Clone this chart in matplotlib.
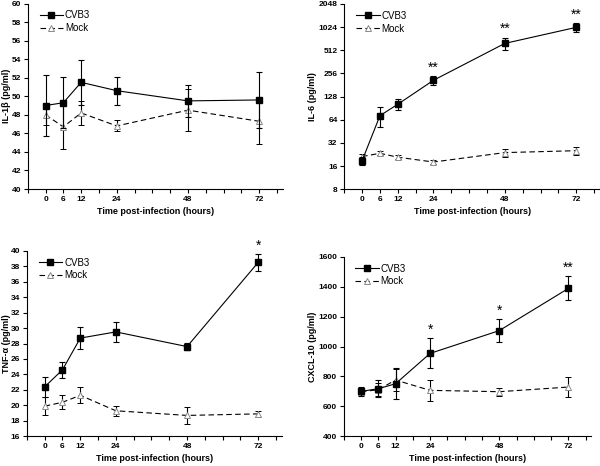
"""Four-panel cytokine time course, CVB3 vs mock infection."""

import matplotlib
matplotlib.use("Agg")
import matplotlib.pyplot as plt
from matplotlib.lines import Line2D
from matplotlib.ticker import FixedLocator, NullFormatter

plt.rcParams["font.family"] = ["Liberation Sans", "DejaVu Sans"]

hours = [0, 6, 12, 24, 48, 72]

# IL-1beta (pg/ml)
il1b_cvb3 = [49.0, 49.3, 51.5, 50.6, 49.5, 49.6]
il1b_cvb3_err = [3.3, 2.75, 2.4, 1.5, 1.7, 3.05]
il1b_mock = [48.0, 46.7, 48.2, 46.8, 48.5, 47.3]
il1b_mock_err = [1.1, 2.4, 1.3, 0.6, 2.3, 2.4]

# IL-6 (pg/ml), log2 axis
il6_cvb3 = [18.9, 72.5, 102, 209, 630, 1018]
il6_cvb3_err = [2.3, 21, 16, 30, 120, 145]
il6_mock = [21.3, 23.5, 20.9, 18.1, 24.0, 25.4]
il6_mock_err = [2.0, 1.5, 1.2, 1.2, 3.0, 3.3]

# TNF-alpha (pg/ml)
tnf_cvb3 = [22.4, 24.6, 28.7, 29.5, 27.6, 38.5]
tnf_cvb3_err = [1.3, 1.05, 1.45, 1.25, 0.5, 1.1]
tnf_mock = [19.9, 20.4, 21.3, 19.3, 18.7, 18.9]
tnf_mock_err = [1.15, 0.9, 1.05, 0.65, 1.1, 0.35]

# CXCL-10 (pg/ml)
cxcl_cvb3 = [700, 718, 751, 954, 1106, 1388]
cxcl_cvb3_err = [30, 55, 105, 100, 75, 80]
cxcl_mock = [698, 711, 776, 707, 698, 729]
cxcl_mock_err = [25, 45, 75, 70, 27, 68]

# significance marks: (hour, label)
il6_stars = [(24, "**"), (48, "**"), (72, "**")]
tnf_stars = [(72, "*")]
cxcl_stars = [(24, "*"), (48, "*"), (72, "**")]

W, H = 600, 466

CVB3_STYLE = dict(color="black", ls="-", lw=0.8, marker="s", ms=3.8,
                  mfc="black", mec="black")
MOCK_STYLE = dict(color="black", ls=(0, (5, 3)), lw=0.8, marker="^", ms=4.8,
                  mfc="white", mec="#8a8a8a", mew=0.7)


def _px_axes(fig, left, top, right, bottom):
    return fig.add_axes([left / W, 1 - bottom / H, (right - left) / W, (bottom - top) / H])


def draw_panel(ax, cvb3, cvb3_err, mock, mock_err, ylabel, ylim, yticks,
               label_px, stars=(), log2=False):
    err_kw = dict(ecolor="black", elinewidth=0.8, capsize=2.2, capthick=0.8)
    ax.errorbar(hours, mock, yerr=mock_err, zorder=2, **MOCK_STYLE, **err_kw)
    ax.errorbar(hours, cvb3, yerr=cvb3_err, zorder=3, **CVB3_STYLE, **err_kw)

    if log2:
        ax.set_yscale("log", base=2)
        ax.yaxis.set_minor_formatter(NullFormatter())
    ax.set_ylim(*ylim)
    ax.set_yticks(yticks)
    ax.set_yticklabels([str(t) for t in yticks])
    ax.yaxis.set_minor_locator(FixedLocator([]))

    ax.set_xlim(-6, 80)
    ax.set_xticks(hours)
    ax.xaxis.set_minor_locator(FixedLocator([-6, 18, 30, 36, 42, 54, 60, 66, 78]))

    for side in ("top", "right"):
        ax.spines[side].set_visible(False)
    for side in ("left", "bottom"):
        ax.spines[side].set_linewidth(0.8)
    ax.tick_params(which="both", direction="out", width=0.8, length=3,
                   labelsize=6, pad=1.8)
    for lab in ax.get_xticklabels() + ax.get_yticklabels():
        lab.set_fontweight("bold")

    ax.set_xlabel("Time post-infection (hours)", fontsize=6.5, fontweight="bold",
                  labelpad=3)
    ax.set_ylabel(ylabel, fontsize=6.5, fontweight="bold")
    # place the y label's right edge at a fixed figure pixel column
    pos = ax.get_position()
    ax.yaxis.set_label_coords((label_px / W - pos.x0) / pos.width, 0.5)

    for hr, txt in stars:
        i = hours.index(hr)
        ax.annotate(txt, (hr, cvb3[i] + cvb3_err[i]), xytext=(0, 1),
                    textcoords="offset points", ha="center", va="bottom",
                    fontsize=10)

    handles = [Line2D([], [], **CVB3_STYLE), Line2D([], [], **MOCK_STYLE)]
    ax.legend(handles, ["CVB3", "Mock"], loc="upper left",
              bbox_to_anchor=(0.02, 1.0), frameon=False, fontsize=7,
              handlelength=2.4, labelspacing=0.3, handletextpad=0.2,
              borderaxespad=0.3)


fig = plt.figure(figsize=(6, 4.66), dpi=100)

ax1 = _px_axes(fig, 27.7, 3.5, 283, 189)
draw_panel(ax1, il1b_cvb3, il1b_cvb3_err, il1b_mock, il1b_mock_err,
           "IL-1β (pg/ml)", (40, 60), list(range(40, 61, 2)), 11)

ax2 = _px_axes(fig, 344.3, 4, 600, 189.3)
draw_panel(ax2, il6_cvb3, il6_cvb3_err, il6_mock, il6_mock_err,
           "IL-6 (pg/ml)", (8, 2048), [8, 16, 32, 64, 128, 256, 512, 1024, 2048],
           317, stars=il6_stars, log2=True)

ax3 = _px_axes(fig, 26.9, 250.7, 282, 436.3)
draw_panel(ax3, tnf_cvb3, tnf_cvb3_err, tnf_mock, tnf_mock_err,
           "TNF-α (pg/ml)", (16, 40), list(range(16, 41, 2)), 11,
           stars=tnf_stars)

ax4 = _px_axes(fig, 343.7, 256.7, 591.4, 436.3)
draw_panel(ax4, cxcl_cvb3, cxcl_cvb3_err, cxcl_mock, cxcl_mock_err,
           "CXCL-10 (pg/ml)", (400, 1600), list(range(400, 1601, 200)), 317,
           stars=cxcl_stars)

fig.savefig("out.png", dpi=100)
